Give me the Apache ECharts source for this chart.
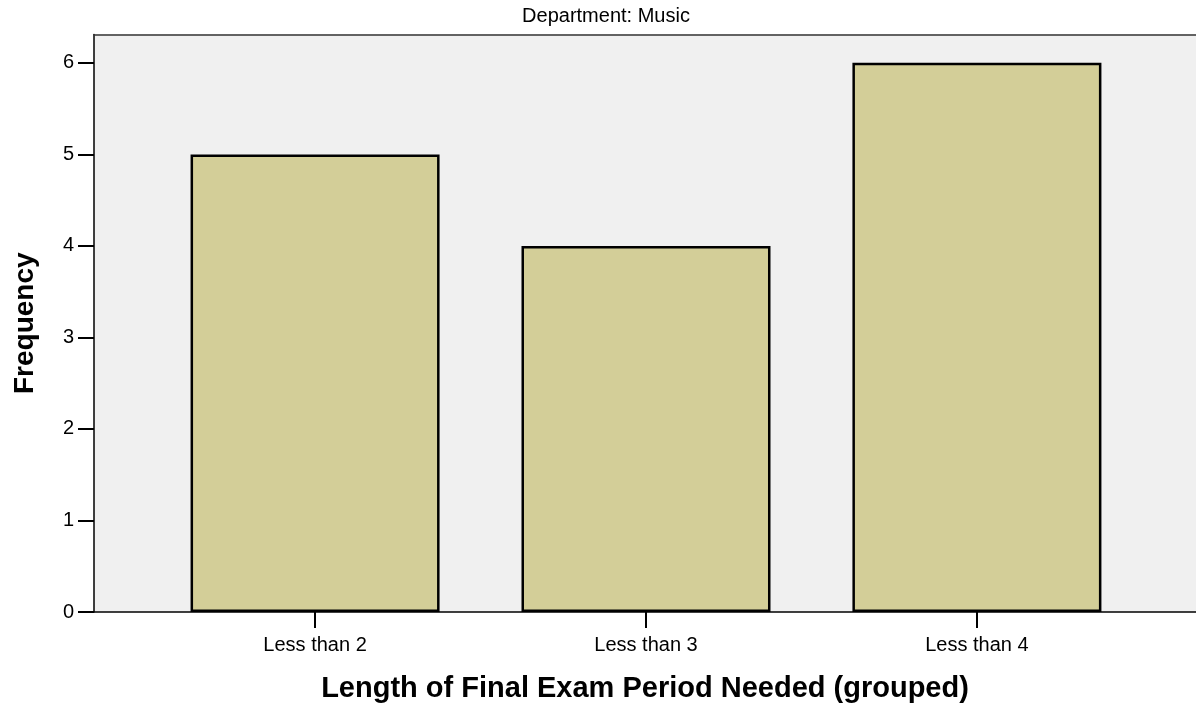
<!DOCTYPE html>
<html><head><meta charset="utf-8">
<script src="https://cdn.jsdelivr.net/npm/echarts@6/dist/echarts.min.js"></script>
<style>html,body{margin:0;padding:0;background:#fff}#c{width:1196px;height:706px}</style>
</head><body><div id="c"></div>
<script>
const categories = ['Less than 2', 'Less than 3', 'Less than 4'];
const frequencies = [5, 4, 6];
const yTicks = [0, 1, 2, 3, 4, 5, 6];
const positions = [1, 2, 3];

const chart = echarts.init(document.getElementById('c'), null, {renderer: 'canvas'});
const font = '"Liberation Sans", Arial, sans-serif';
chart.setOption({
  animation: false,
  title: {
    text: 'Department: Music', left: 601, top: 1, textAlign: 'center',
    textStyle: {fontFamily: font, fontSize: 20, fontWeight: 'normal', color: '#000'}
  },
  grid: {left: 94, right: 0, top: 34.5, bottom: 94, show: true, backgroundColor: '#f0f0f0', borderWidth: 0,
    containLabel: false, outerBoundsMode: 'none'},
  xAxis: [{
    type: 'value', min: 0.332, max: 3.662,
    name: 'Length of Final Exam Period Needed (grouped)', nameLocation: 'middle', nameGap: 62,
    nameTextStyle: {fontFamily: font, fontSize: 29, fontWeight: 'bold', color: '#000'},
    axisLine: {show: true, lineStyle: {color: '#000', width: 1.5}},
    axisTick: {show: true, length: 16, lineStyle: {color: '#000', width: 2}, customValues: positions},
    axisLabel: {customValues: positions, margin: 23, fontFamily: font, fontSize: 20, color: '#000',
      formatter: v => categories[Math.round(v) - 1]},
    splitLine: {show: false}
  }, {
    type: 'value', position: 'top', min: 0.332, max: 3.662,
    axisLine: {show: true, lineStyle: {color: '#333', width: 1.5}},
    axisTick: {show: false}, axisLabel: {show: false}, splitLine: {show: false}
  }],
  yAxis: {
    type: 'value', min: 0, max: 6.31,
    name: 'Frequency', nameLocation: 'middle', nameGap: 55,
    nameTextStyle: {fontFamily: font, fontSize: 28, fontWeight: 'bold', color: '#000'},
    axisLine: {show: true, lineStyle: {color: '#000', width: 1.5}},
    axisTick: {show: true, length: 16, lineStyle: {color: '#000', width: 2}, customValues: yTicks},
    axisLabel: {customValues: yTicks, margin: 20, fontFamily: font, fontSize: 20, color: '#000'},
    splitLine: {show: false}
  },
  series: [{
    type: 'bar', xAxisIndex: 0,
    data: positions.map((p, i) => [p, frequencies[i]]),
    barWidth: 249,
    itemStyle: {color: '#d3ce98', borderColor: '#000', borderWidth: 2.5}
  }]
});
</script></body></html>
